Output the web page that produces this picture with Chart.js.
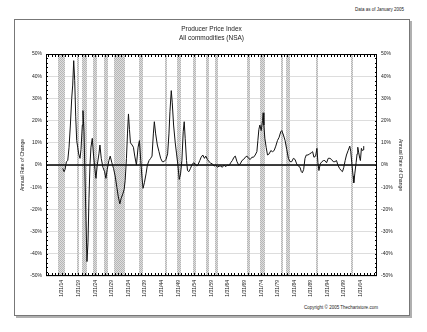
<!DOCTYPE html>
<html>
<head>
<meta charset="utf-8">
<script src="https://cdn.jsdelivr.net/npm/chart.js@4"></script>
<style>
    body { margin: 0; background: #fff; }
    #wrap { position: relative; width: 427px; height: 332px; font-family: "Liberation Sans", Arial, sans-serif; color: #222; }
    #frame { position: absolute; left: 14px; top: 19px; width: 394px; height: 295px; border: 1px solid #777; box-shadow: 2px 2px 0 #b0b0b0; }
    #asof { position: absolute; right: 23px; top: 7px; font-size: 4.5px; }
    #copy { position: absolute; left: 295px; width: 92px; top: 305px; text-align: center; font-size: 4.5px; }
    canvas { position: absolute; left: 0; top: 0; }
</style>
</head>
<body>
<div id="wrap">
    <div id="frame"></div>
    <div id="asof">Data as of January 2005</div>
    <div id="copy">Copyright © 2005 Thechartstore.com</div>
    <canvas id="ppiChart" width="427" height="332"></canvas>
</div>
<script>
// annual % change of the PPI (decimal year, %)
const dates = [
    1914.3, 1914.7, 1915.0, 1915.4, 1915.8, 1916.2, 1916.6, 1917.0, 1917.3, 1917.6,
    1917.9, 1918.2, 1918.5, 1918.8, 1919.1, 1919.5, 1919.8, 1920.2, 1920.4, 1920.7,
    1921.0, 1921.3, 1921.6, 1921.9, 1922.2, 1922.5, 1922.8, 1923.2, 1923.6, 1924.0,
    1924.3, 1924.7, 1925.2, 1925.5, 1925.9, 1926.4, 1926.9, 1927.3, 1927.7, 1928.2,
    1928.6, 1929.1, 1929.6, 1930.1, 1930.6, 1931.0, 1931.5, 1931.9, 1932.4, 1932.8,
    1933.1, 1933.5, 1933.8, 1934.1, 1934.4, 1934.7, 1935.2, 1935.6, 1936.0, 1936.5,
    1937.0, 1937.4, 1937.8, 1938.2, 1938.5, 1938.9, 1939.4, 1939.8, 1940.3, 1940.8,
    1941.2, 1941.6, 1941.9, 1942.3, 1942.8, 1943.3, 1943.8, 1944.3, 1944.8, 1945.4,
    1945.9, 1946.3, 1946.6, 1947.0, 1947.3, 1947.7, 1948.2, 1948.6, 1949.0, 1949.4,
    1949.8, 1950.2, 1950.6, 1950.9, 1951.2, 1951.6, 1951.9, 1952.3, 1952.8, 1953.2,
    1953.7, 1954.2, 1954.7, 1955.1, 1955.6, 1956.0, 1956.5, 1957.0, 1957.4, 1957.9,
    1958.4, 1958.9, 1959.4, 1959.9, 1960.4, 1960.9, 1961.4, 1961.9, 1962.4, 1962.9,
    1963.4, 1963.9, 1964.4, 1964.9, 1965.4, 1965.9, 1966.3, 1966.8, 1967.3, 1967.8,
    1968.3, 1968.8, 1969.3, 1969.8, 1970.3, 1970.8, 1971.3, 1971.8, 1972.3, 1972.8,
    1973.1, 1973.4, 1973.7, 1974.1, 1974.5, 1974.7, 1974.9, 1975.2, 1975.6, 1976.0,
    1976.5, 1977.0, 1977.5, 1978.0, 1978.5, 1979.0, 1979.5, 1980.0, 1980.3, 1980.8,
    1981.3, 1981.8, 1982.3, 1982.8, 1983.3, 1983.8, 1984.3, 1984.8, 1985.3, 1985.8,
    1986.2, 1986.5, 1986.9, 1987.3, 1987.7, 1988.2, 1988.7, 1989.2, 1989.6, 1990.0,
    1990.5, 1990.9, 1991.2, 1991.5, 1991.9, 1992.4, 1992.9, 1993.3, 1993.8, 1994.3,
    1994.8, 1995.3, 1995.8, 1996.3, 1996.8, 1997.2, 1997.7, 1998.2, 1998.6, 1999.0,
    1999.4, 1999.8, 2000.3, 2000.8, 2001.1, 2001.4, 2001.8, 2002.0, 2002.3, 2002.7,
    2003.0, 2003.2, 2003.5, 2003.8, 2004.0, 2004.3, 2004.6, 2004.8, 2005.0
];
const changes = [
    -1.5, -3, -2, 1.5, 2, 8, 18, 30, 36, 47,
    38, 22, 11, 8, 5, 3, 7, 18, 24.5, 15,
    -5, -25, -43.5, -35, -15, 0, 8, 12, 4, -2,
    -6, 0, 5, 9, 3, -1, -3, -6, -2, 2,
    4, 1, -1.5, -5, -10, -14, -17.5, -15, -13, -11,
    -7, 3, 14, 23, 16, 10, 9, 8, 4, 0,
    8, 11, 2, -6, -10.5, -8, -4, 0, 2, 3,
    4, 14, 19.5, 14, 9, 6, 3, 1.5, 1.5, 2.5,
    5, 14, 24, 33.5, 28, 18, 10, 5, 0, -6.5,
    -4, 2, 15, 19.5, 12, 2, -2.5, -3, -1.5, 0,
    1, 0.5, -0.5, 0.3, 2, 3.5, 4.5, 3, 4, 2.5,
    1.5, 0.8, 0.5, -0.5, 0, -1, -0.5, -0.5, -1, 0,
    -0.8, 0, -0.3, 1, 2, 3.5, 4, 1.5, 0, 0.5,
    2, 2.5, 3.5, 4, 3, 2.5, 3.5, 3.5, 4.5, 6,
    11, 16, 18, 15.5, 20, 23.5, 18, 12, 8, 4.5,
    5, 6.5, 6, 6.5, 8.5, 11, 12.5, 15, 15.5, 13.5,
    11, 7, 3, 1.5, 1.5, 3, 2.5, 0.5, -0.5, -1,
    -3, -3.5, -2, 3, 4.5, 4.5, 5, 5.5, 6, 3.5,
    4, 7.5, 1, -2.5, 0.5, 1.5, 2, 2, 1, 3,
    3, 2.5, 1.5, 1.5, 2, 0, -1.5, -2.5, -3, -1,
    2, 4.5, 6.5, 8.5, 6, 1, -5, -8, -4, 1,
    5, 8, 5.5, 3, 2, 7.5, 6.5, 6.8, 8.5
];

// NBER recessions (decimal year)
const recessionStart = [1913.0, 1918.6, 1920.0, 1923.35, 1926.75, 1929.6, 1937.35, 1945.1, 1948.85, 1953.5, 1957.6, 1960.3, 1969.95, 1973.85, 1980.0, 1981.5, 1990.5, 2001.2];
const recessionEnd = [1914.92, 1919.2, 1921.5, 1924.5, 1927.83, 1933.2, 1938.45, 1945.8, 1949.8, 1954.35, 1958.3, 1961.1, 1970.85, 1975.2, 1980.5, 1982.85, 1991.2, 2001.85];

const tickYears = [1914, 1919, 1924, 1929, 1934, 1939, 1944, 1949, 1954, 1959, 1964, 1969, 1974, 1979, 1984, 1989, 1994, 1999, 2004];

const FONT = "'Liberation Sans', Arial, sans-serif";

// fine checker so the bands read as the stippled grey of the original
function makePattern(ctx) {
    const p = document.createElement("canvas");
    p.width = 2;
    p.height = 2;
    const c = p.getContext("2d");
    c.fillStyle = "#dedede";
    c.fillRect(0 , 0 , 2 , 2);
    c.fillStyle = "#b6b6b6";
    c.fillRect(0 , 0 , 1 , 1);
    c.fillRect(1 , 1 , 1 , 1);
    return ctx.createPattern(p , "repeat");
}

const recessionPlugin = {
    id: "recessions",
    beforeDatasetsDraw(chart) {
        const {ctx , chartArea: a , scales: {x , y}} = chart;
        ctx.save();
        ctx.fillStyle = makePattern(ctx);
        recessionStart.forEach((s , i) => {
            const x0 = Math.max(a.left , Math.round(x.getPixelForValue(s)));
            const x1 = Math.min(a.right , Math.round(x.getPixelForValue(recessionEnd[i])));
            ctx.fillRect(x0 , a.top , Math.max(2 , x1 - x0) , a.bottom - a.top);
        });
        const y0 = Math.round(y.getPixelForValue(0));
        ctx.strokeStyle = "#000";
        ctx.lineWidth = 1.5;
        ctx.beginPath();
        ctx.moveTo(a.left , y0);
        ctx.lineTo(a.right , y0);
        ctx.stroke();
        ctx.restore();
    },
    afterDraw(chart) {
        const {ctx , chartArea: a , scales: {x , y}} = chart;
        ctx.save();
        ctx.strokeStyle = "#000";
        ctx.lineWidth = 1;
        ctx.strokeRect(a.left + 0.5 , a.top + 0.5 , a.right - a.left - 1 , a.bottom - a.top - 1);
        ctx.beginPath();
        for (let yr = 1910; yr <= 2008; yr++) {
            const px = Math.round(x.getPixelForValue(yr)) + 0.5;
            ctx.moveTo(px , a.top);
            ctx.lineTo(px , a.top + 3);
            ctx.moveTo(px , a.bottom);
            ctx.lineTo(px , a.bottom - 3);
        }
        for (let v = -48; v <= 48; v += 2) {
            const py = Math.round(y.getPixelForValue(v)) + 0.5;
            ctx.moveTo(a.left , py);
            ctx.lineTo(a.left + 2 , py);
            ctx.moveTo(a.right , py);
            ctx.lineTo(a.right - 2 , py);
        }
        ctx.stroke();
        ctx.restore();
    }
};

const yTicks = {
    stepSize: 10 ,
    color: "#222" ,
    padding: 4 ,
    font: {family: FONT , size: 5} ,
    callback: v => v + "%"
};

new Chart(document.getElementById("ppiChart") , {
    type: "line" ,
    data: {
        datasets: [{
            data: dates.map((d , i) => ({x: d , y: changes[i]})) ,
            borderColor: "#111" ,
            borderWidth: 1 ,
            pointRadius: 0 ,
            tension: 0
        }]
    } ,
    options: {
        responsive: false ,
        animation: false ,
        layout: {padding: {left: 14 , right: 18 , top: 19 , bottom: 17}} ,
        plugins: {
            legend: {display: false} ,
            tooltip: {enabled: false} ,
            title: {
                display: true ,
                text: ["Producer Price Index" , "All commodities (NSA)"] ,
                color: "#222" ,
                font: {family: FONT , size: 6.5 , weight: "normal" , lineHeight: 1.4} ,
                padding: {top: 6 , bottom: 10.8}
            }
        } ,
        scales: {
            x: {
                type: "linear" ,
                min: 1909.25 ,
                max: 2009 ,
                afterBuildTicks: scale => {
                    scale.ticks = tickYears.map(yr => ({value: yr + 31 / 365}));
                } ,
                afterFit: scale => { scale.height = 39; } ,
                grid: {display: false , drawTicks: false} ,
                border: {display: false} ,
                ticks: {
                    autoSkip: false ,
                    minRotation: 90 ,
                    maxRotation: 90 ,
                    padding: 4 ,
                    color: "#222" ,
                    font: {family: FONT , size: 5} ,
                    callback: v => "1/31/" + String(Math.floor(v)).slice(2)
                }
            } ,
            y: {
                min: -50 ,
                max: 50 ,
                afterFit: scale => { scale.width = 32; } ,
                grid: {color: "#d4d4d4" , lineWidth: 0.8 , drawTicks: false} ,
                border: {display: false} ,
                ticks: yTicks ,
                title: {
                    display: true ,
                    text: "Annual Rate of Change" ,
                    color: "#222" ,
                    font: {family: FONT , size: 5 , lineHeight: 1.2} ,
                    padding: {top: 6 , bottom: 0}
                }
            } ,
            y2: {
                position: "right" ,
                min: -50 ,
                max: 50 ,
                afterFit: scale => { scale.width = 32; } ,
                grid: {display: false , drawTicks: false} ,
                border: {display: false} ,
                ticks: yTicks ,
                title: {
                    display: true ,
                    text: "Annual Rate of Change" ,
                    color: "#222" ,
                    font: {family: FONT , size: 5 , lineHeight: 1.2} ,
                    padding: {top: 6 , bottom: 0}
                }
            }
        }
    } ,
    plugins: [recessionPlugin]
});
</script>
</body>
</html>
